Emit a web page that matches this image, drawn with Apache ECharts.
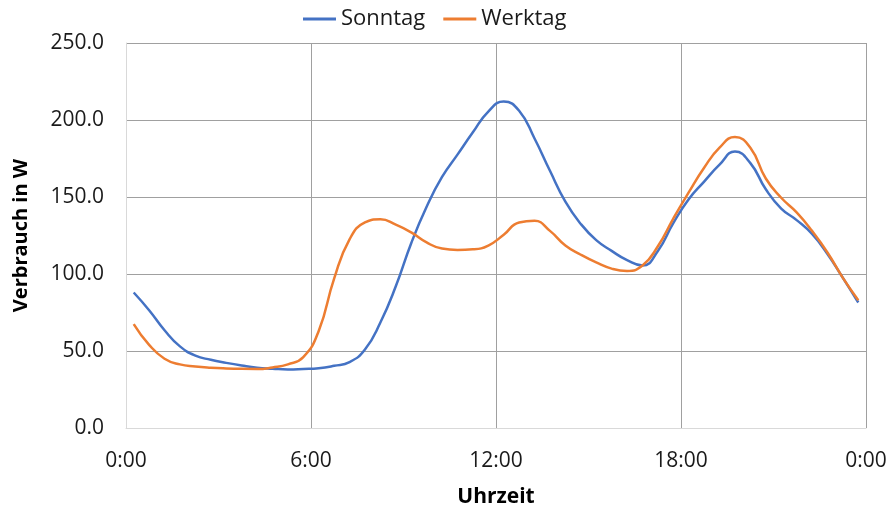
<!DOCTYPE html>
<html>
<head>
<meta charset="utf-8">
<script src="https://cdn.jsdelivr.net/npm/echarts@6/dist/echarts.min.js"></script>
<style>
  html, body { margin: 0; padding: 0; background: #fff; }
  #chart { width: 892px; height: 508px; }
</style>
</head>
<body>
<div id="chart"></div>
<script>
// Half-hourly sampling points (hours of the day, interval midpoints)
const hours = [
  0.25, 0.75, 1.25, 1.75, 2.25, 2.75, 3.25, 3.75, 4.25, 4.75, 5.25, 5.75,
  6.25, 6.75, 7.25, 7.75, 8.25, 8.75, 9.25, 9.75, 10.25, 10.75, 11.25, 11.75,
  12.25, 12.75, 13.25, 13.75, 14.25, 14.75, 15.25, 15.75, 16.25, 16.75, 17.25, 17.75,
  18.25, 18.75, 19.25, 19.75, 20.25, 20.75, 21.25, 21.75, 22.25, 22.75, 23.25, 23.75
];

// Average consumption in W
const sonntag = [
  88, 76.5, 63.5, 53, 47, 44.3, 42.3, 40.6, 39.2, 38.5, 38, 38.3,
  38.8, 40.4, 42.8, 51, 68.5, 92, 120, 143.7, 163, 177.5, 192, 205.5,
  212, 206, 188, 167, 147, 132.5, 122, 115, 109, 105.5, 115, 133,
  148.5, 160, 171, 179.5, 172, 155, 142.5, 135, 126, 113, 97.5, 81.5
];
const werktag = [
  67.5, 54, 45, 41.3, 40, 39.2, 38.7, 38.4, 38.3, 39.3, 41.3, 46,
  63, 97, 122.5, 133.5, 135.5, 132, 127, 120.5, 116.5, 115.6, 116, 118.5,
  125.5, 133.5, 134.5, 128, 118.5, 112.5, 107.5, 103.5, 102, 105.5, 118, 136,
  153, 169, 182, 189, 182, 162, 149.5, 140, 128, 114, 97.5, 83
];

const seriesNames = ['Sonntag', 'Werktag'];
const colors = ['#4472C4', '#ED7D31'];

const pairs = (ys) => hours.map((h, i) => [h, ys[i]]);

const FONT = '"Open Sans", "Noto Sans", sans-serif';
const chart = echarts.init(document.getElementById('chart'), null, { renderer: 'canvas' });

chart.setOption({
  animation: false,
  color: colors,
  textStyle: { fontFamily: FONT },
  legend: {
    top: 3,
    left: 298,
    itemWidth: 33,
    itemHeight: 3,
    itemGap: 18,
    icon: 'rect',
    textStyle: { fontFamily: FONT, fontSize: 22, color: '#1a1a1a' },
    data: seriesNames
  },
  grid: { left: 126, right: 26, top: 43, bottom: 80, outerBoundsMode: 'none', containLabel: false },
  xAxis: {
    type: 'value',
    min: 0,
    max: 24,
    interval: 6,
    name: 'Uhrzeit',
    nameLocation: 'middle',
    nameGap: 59,
    nameTextStyle: { fontFamily: FONT, fontSize: 21, fontWeight: 'bold', color: '#000' },
    axisLine: { show: true, lineStyle: { color: '#D9D9D9', width: 1 } },
    axisTick: { show: false },
    axisLabel: {
      margin: 23,
      fontFamily: FONT,
      fontSize: 21,
      color: '#1a1a1a',
      formatter: (v) => (v % 24) + ':00'
    },
    splitLine: { show: true, showMinLine: false, lineStyle: { color: '#A0A0A0', width: 1 } }
  },
  yAxis: {
    type: 'value',
    min: 0,
    max: 250,
    interval: 50,
    name: 'Verbrauch in W',
    nameLocation: 'middle',
    nameGap: 95,
    nameTextStyle: { fontFamily: FONT, fontSize: 20, fontWeight: 'bold', color: '#000' },
    axisLine: { show: true, lineStyle: { color: '#D9D9D9', width: 1 } },
    axisTick: { show: false },
    axisLabel: {
      margin: 22,
      fontFamily: FONT,
      fontSize: 21,
      color: '#1a1a1a',
      formatter: (v) => v.toFixed(1)
    },
    splitLine: { show: true, showMinLine: false, lineStyle: { color: '#A0A0A0', width: 1 } }
  },
  series: [
    {
      name: seriesNames[0],
      type: 'line',
      data: pairs(sonntag),
      smooth: 0.5,
      showSymbol: false,
      symbol: 'none',
      lineStyle: { width: 2.5, color: colors[0] }
    },
    {
      name: seriesNames[1],
      type: 'line',
      data: pairs(werktag),
      smooth: 0.5,
      showSymbol: false,
      symbol: 'none',
      lineStyle: { width: 2.5, color: colors[1] }
    }
  ]
});
</script>
</body>
</html>
